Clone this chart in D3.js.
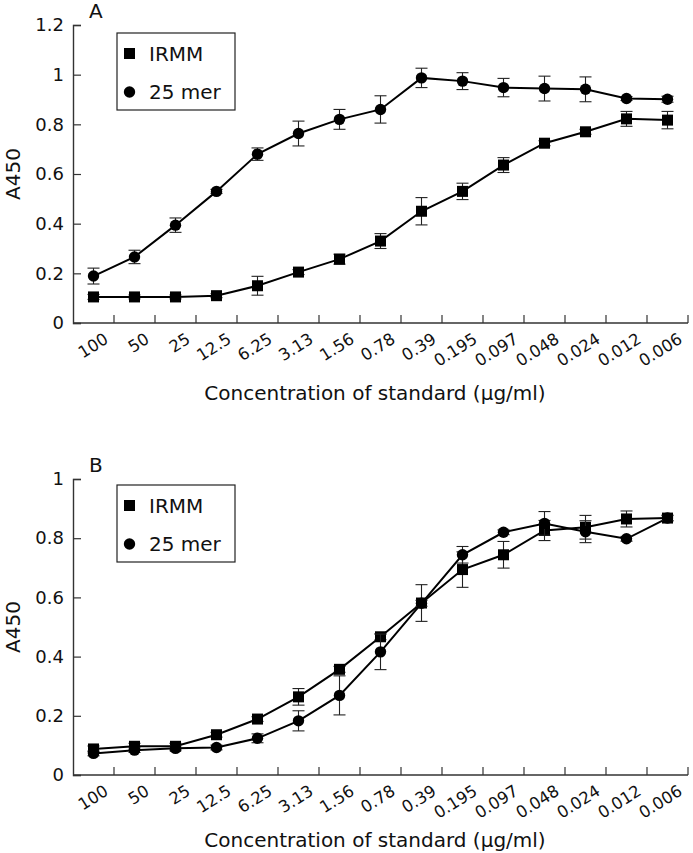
<!DOCTYPE html>
<html>
<head>
<meta charset="utf-8">
<script src="https://cdn.jsdelivr.net/npm/d3@7"></script>
<style>
  html, body { margin: 0; padding: 0; background: #fff; }
  svg { display: block; font-family: "DejaVu Sans", sans-serif; }
</style>
</head>
<body>
<svg id="chart" width="693" height="853"></svg>
<script>
const categories = ["100","50","25","12.5","6.25","3.13","1.56","0.78","0.39","0.195","0.097","0.048","0.024","0.012","0.006"];

// Panel A
const irmmA    = [0.105,0.105,0.105,0.11,0.15,0.205,0.257,0.33,0.45,0.53,0.636,0.724,0.77,0.822,0.817];
const irmmAErr = [0.01,0.008,0.008,0.008,0.038,0.01,0.02,0.03,0.055,0.033,0.03,0.01,0.01,0.03,0.035];
const merA     = [0.189,0.266,0.394,0.53,0.68,0.763,0.82,0.86,0.987,0.974,0.948,0.944,0.941,0.904,0.901];
const merAErr  = [0.032,0.027,0.029,0.008,0.025,0.05,0.04,0.055,0.039,0.034,0.037,0.05,0.05,0.008,0.012];
const yTicksA  = [0,0.2,0.4,0.6,0.8,1,1.2];

// Panel B
const irmmB    = [0.088,0.097,0.097,0.136,0.189,0.264,0.357,0.467,0.581,0.694,0.744,0.826,0.837,0.865,0.868];
const irmmBErr = [0.01,0.01,0.01,0.008,0.008,0.028,0.01,0.01,0.062,0.06,0.045,0.034,0.04,0.027,0.01];
const merB     = [0.073,0.084,0.09,0.093,0.124,0.183,0.269,0.416,0.58,0.744,0.82,0.85,0.822,0.798,0.868];
const merBErr  = [0.008,0.008,0.008,0.008,0.015,0.034,0.066,0.06,0.01,0.028,0.008,0.04,0.037,0.008,0.008];
const yTicksB  = [0,0.2,0.4,0.6,0.8,1];

const seriesNames = ["IRMM","25 mer"];
const xTitle = "Concentration of standard (\u03bcg/ml)";
const yTitle = "A450";

const svg = d3.select("#chart");
const left = 73, right = 688;

function panel(cfg) {
  const g = svg.append("g");
  const x = d3.scaleBand().domain(categories).range([left, right]).paddingInner(0).paddingOuter(0);
  const y = d3.scaleLinear().domain([0, cfg.ymax]).range([cfg.y0, cfg.ytop]);
  const cx = c => x(c) + x.bandwidth() / 2;

  // y axis
  const ya = d3.axisLeft(y).tickValues(cfg.yTicks).tickSize(-8).tickPadding(9)
    .tickFormat(d => String(+d.toFixed(1)));
  const yg = g.append("g").attr("transform", `translate(${left},0)`).call(ya);
  yg.select(".domain").attr("stroke", "#333").attr("stroke-width", 1.4);
  yg.selectAll(".tick line").attr("stroke", "#333").attr("stroke-width", 1.2);
  yg.selectAll(".tick text").attr("font-size", 18).attr("fill", "#111").attr("font-family", "DejaVu Sans");

  // x axis: line + inward ticks at band boundaries
  g.append("line").attr("x1", left).attr("x2", right).attr("y1", cfg.y0).attr("y2", cfg.y0)
    .attr("stroke", "#333").attr("stroke-width", 1.4);
  g.selectAll(".xtick").data(categories).enter().append("line")
    .attr("x1", c => x(c) + x.bandwidth()).attr("x2", c => x(c) + x.bandwidth())
    .attr("y1", cfg.y0).attr("y2", cfg.y0 - 8)
    .attr("stroke", "#333").attr("stroke-width", 1.2);
  g.selectAll(".xlab").data(categories).enter().append("text")
    .attr("transform", c => `translate(${cx(c) + 16},${cfg.y0 + 19}) rotate(-32)`)
    .attr("text-anchor", "end").attr("font-size", 16.5).attr("fill", "#111")
    .text(c => c);

  // titles
  g.append("text").attr("x", 375).attr("y", cfg.titleY).attr("text-anchor", "middle")
    .attr("font-size", 20).attr("fill", "#111").text(xTitle);
  g.append("text").attr("transform", `translate(20,${(cfg.y0 + cfg.ytop) / 2}) rotate(-90)`)
    .attr("text-anchor", "middle").attr("font-size", 20).attr("fill", "#111").text(yTitle);
  g.append("text").attr("x", 89).attr("y", cfg.ytop - 7).attr("font-size", 20).attr("fill", "#111").text(cfg.letter);

  const series = [
    {vals: cfg.irmm, err: cfg.irmmErr, shape: "square"},
    {vals: cfg.mer, err: cfg.merErr, shape: "circle"}
  ];
  const line = d3.line().x((d, i) => cx(categories[i])).y(d => y(d));

  series.forEach(s => {
    g.append("path").attr("d", line(s.vals)).attr("fill", "none").attr("stroke", "#000").attr("stroke-width", 2);
    const eg = g.append("g").attr("stroke", "#222").attr("stroke-width", 1.1);
    s.vals.forEach((v, i) => {
      const xc = cx(categories[i]);
      const yt = y(v + s.err[i]), yb = y(v - s.err[i]);
      eg.append("line").attr("x1", xc).attr("x2", xc).attr("y1", yt).attr("y2", yb);
      eg.append("line").attr("x1", xc - 6).attr("x2", xc + 6).attr("y1", yt).attr("y2", yt);
      eg.append("line").attr("x1", xc - 6).attr("x2", xc + 6).attr("y1", yb).attr("y2", yb);
    });
    s.vals.forEach((v, i) => {
      const xc = cx(categories[i]);
      if (s.shape === "square") {
        g.append("rect").attr("x", xc - 5.5).attr("y", y(v) - 5.5).attr("width", 11).attr("height", 11).attr("fill", "#000");
      } else {
        g.append("circle").attr("cx", xc).attr("cy", y(v)).attr("r", 5.7).attr("fill", "#000");
      }
    });
  });

  // legend
  const lg = g.append("g").attr("transform", `translate(117,${cfg.legendTop})`);
  lg.append("rect").attr("x", 0).attr("y", 0).attr("width", 118).attr("height", 77)
    .attr("fill", "#fff").attr("stroke", "#222").attr("stroke-width", 1.2);
  lg.append("rect").attr("x", 7).attr("y", 15).attr("width", 11).attr("height", 11).attr("fill", "#000");
  lg.append("circle").attr("cx", 12.5).attr("cy", 59).attr("r", 5.7).attr("fill", "#000");
  lg.append("text").attr("x", 32).attr("y", 28).attr("font-size", 20).attr("fill", "#111").text(seriesNames[0]);
  lg.append("text").attr("x", 32).attr("y", 66).attr("font-size", 20).attr("fill", "#111").text(seriesNames[1]);
}

panel({letter: "A", ymax: 1.2, y0: 323, ytop: 25, yTicks: yTicksA, irmm: irmmA, irmmErr: irmmAErr, mer: merA, merErr: merAErr, legendTop: 33, titleY: 400});
panel({letter: "B", ymax: 1, y0: 775, ytop: 479, yTicks: yTicksB, irmm: irmmB, irmmErr: irmmBErr, mer: merB, merErr: merBErr, legendTop: 485, titleY: 847});
</script>
</body>
</html>
